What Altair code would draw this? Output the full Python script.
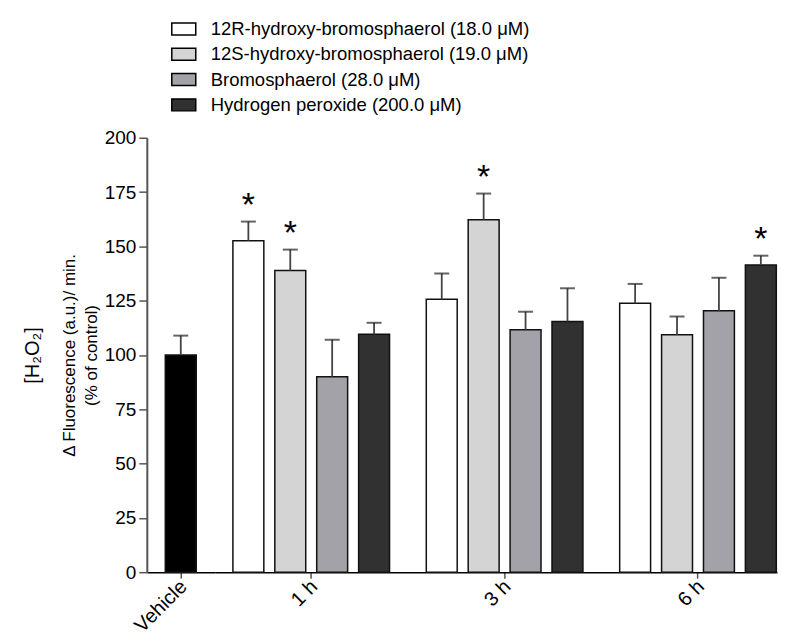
import altair as alt
import pandas as pd

# ---------------- data ----------------
groups = ["1 h", "3 h", "6 h"]
series = [
    "12R-hydroxy-bromosphaerol (18.0 μM)",
    "12S-hydroxy-bromosphaerol (19.0 μM)",
    "Bromosphaerol (28.0 μM)",
    "Hydrogen peroxide (200.0 μM)",
]
colors = ["#ffffff", "#d4d4d4", "#a3a2a8", "#313131"]

r12_mean = [152.6, 125.6, 123.8]
r12_sem = [8.8, 11.9, 8.9]
s12_mean = [138.9, 162.3, 109.3]
s12_sem = [9.6, 12.0, 8.4]
bromo_mean = [90.0, 111.6, 120.4]
bromo_sem = [17.0, 8.3, 15.2]
h2o2_mean = [109.5, 115.4, 141.4]
h2o2_sem = [5.3, 15.3, 4.3]

r12_sig = [True, False, False]
s12_sig = [True, True, False]
bromo_sig = [False, False, False]
h2o2_sig = [False, False, True]

vehicle_label = ["Vehicle"]
vehicle_mean = [100.0]
vehicle_sem = [8.9]

y_ticks = [0, 25, 50, 75, 100, 125, 150, 175, 200]

FONT = "Liberation Sans"

# ---------------- tables ----------------
rows = []
for s, means, sems, sigs in zip(
    series,
    [r12_mean, s12_mean, bromo_mean, h2o2_mean],
    [r12_sem, s12_sem, bromo_sem, h2o2_sem],
    [r12_sig, s12_sig, bromo_sig, h2o2_sig],
):
    for g, m, e, sg in zip(groups, means, sems, sigs):
        rows.append({"group": g, "series": s, "mean": m, "upper": m + e,
                     "star": "*" if sg else ""})
df = pd.DataFrame(rows)

vdf = pd.DataFrame({"label": vehicle_label, "mean": vehicle_mean,
                    "upper": [m + e for m, e in zip(vehicle_mean, vehicle_sem)]})

# ---------------- vehicle panel ----------------
yscale = alt.Scale(domain=[0, 200], nice=False, zero=True)
vx = alt.X("label:N", scale=alt.Scale(paddingInner=0, paddingOuter=0),
           axis=alt.Axis(title=None, labelAngle=315))

v_bar = alt.Chart(vdf).mark_bar(size=31, color="black", stroke="#111", strokeWidth=1.5).encode(
    x=vx,
    y=alt.Y("mean:Q", scale=yscale,
            axis=alt.Axis(values=y_ticks, title=["Δ Fluorescence (a.u.)/ min.", "(% of control)"],
                          titleFontSize=17, titleFont=FONT, titleFontWeight="normal",
                          titleColor="black", titlePadding=4, titleLineHeight=22,
                          labelFontSize=19, labelPadding=3, tickSize=8, tickWidth=1.5,
                          tickColor="#555", domainColor="#555", domainWidth=2,
                          grid=False)),
)
v_err = alt.Chart(vdf).mark_rule(color="#444", strokeWidth=1.8).encode(
    x=vx,
    y=alt.Y("mean:Q", scale=yscale,
            axis=alt.Axis(orient="left", labels=False, ticks=False, domain=False, grid=False,
                          title="[H₂O₂]", titleFontSize=20, titleFont=FONT,
                          titleFontWeight="normal", titleColor="black", titlePadding=104)),
    y2="upper:Q",
)
v_cap = alt.Chart(vdf).mark_tick(color="#222", thickness=2, size=15, orient="horizontal").encode(
    x=vx, y=alt.Y("upper:Q", scale=yscale, axis=None),
)
vehicle_panel = alt.layer(v_bar, v_err, v_cap).resolve_scale(y="independent").properties(
    width=68, height=435)

# ---------------- treatment panel ----------------
gx = alt.X("group:N", scale=alt.Scale(domain=groups, paddingInner=0.19, paddingOuter=0.0488, align=0.963),
           axis=alt.Axis(title=None, labelAngle=315))
gxo = alt.XOffset("series:N", scale=alt.Scale(domain=series, paddingInner=0.262, paddingOuter=0))

bars = alt.Chart(df).mark_bar(stroke="#111", strokeWidth=1.5).encode(
    x=gx, xOffset=gxo,
    y=alt.Y("mean:Q", scale=yscale, axis=None),
    color=alt.Color("series:N", scale=alt.Scale(domain=series, range=colors),
                    legend=alt.Legend(orient="none", legendX=24, legendY=-121.8, title=None,
                                      symbolType="M-1,-0.5H1V0.5H-1Z", symbolSize=576,
                                      symbolStrokeColor="black", symbolStrokeWidth=1.5,
                                      labelFont=FONT, labelFontSize=18.5, labelColor="black",
                                      labelOffset=14, rowPadding=2.3, padding=0,
                                      labelLimit=500)),
)
errs = alt.Chart(df).mark_rule(color="#444", strokeWidth=1.8).encode(
    x=gx, xOffset=gxo,
    y=alt.Y("mean:Q", scale=yscale, axis=None), y2="upper:Q",
)
caps = alt.Chart(df).mark_tick(color="#222", thickness=2, size=15, orient="horizontal").encode(
    x=gx, xOffset=gxo, y=alt.Y("upper:Q", scale=yscale, axis=None),
)
stars = alt.Chart(df).mark_text(fontSize=34, font=FONT, color="black", baseline="alphabetic", dy=-6).encode(
    x=gx, xOffset=gxo, y=alt.Y("upper:Q", scale=yscale, axis=None), text="star:N",
)
treat_panel = alt.layer(bars, errs, caps, stars).properties(width=563, height=435)

chart = alt.hconcat(vehicle_panel, treat_panel, spacing=0, bounds="flush").properties(
    padding={"left": 15, "top": 7.5, "right": 0, "bottom": 0}
).configure_view(stroke=None).configure_axis(
    labelFont=FONT, labelFontSize=19, labelColor="black",
    domainColor="black", domainWidth=1.5, tickColor="#555", tickWidth=1.5, tickSize=6,
    titleFont=FONT,
).configure_axisX(labelPadding=-2, labelOffset=-4, labelFontSize=20)

chart.save("out.html", embed_options={"renderer": "svg", "actions": False})
